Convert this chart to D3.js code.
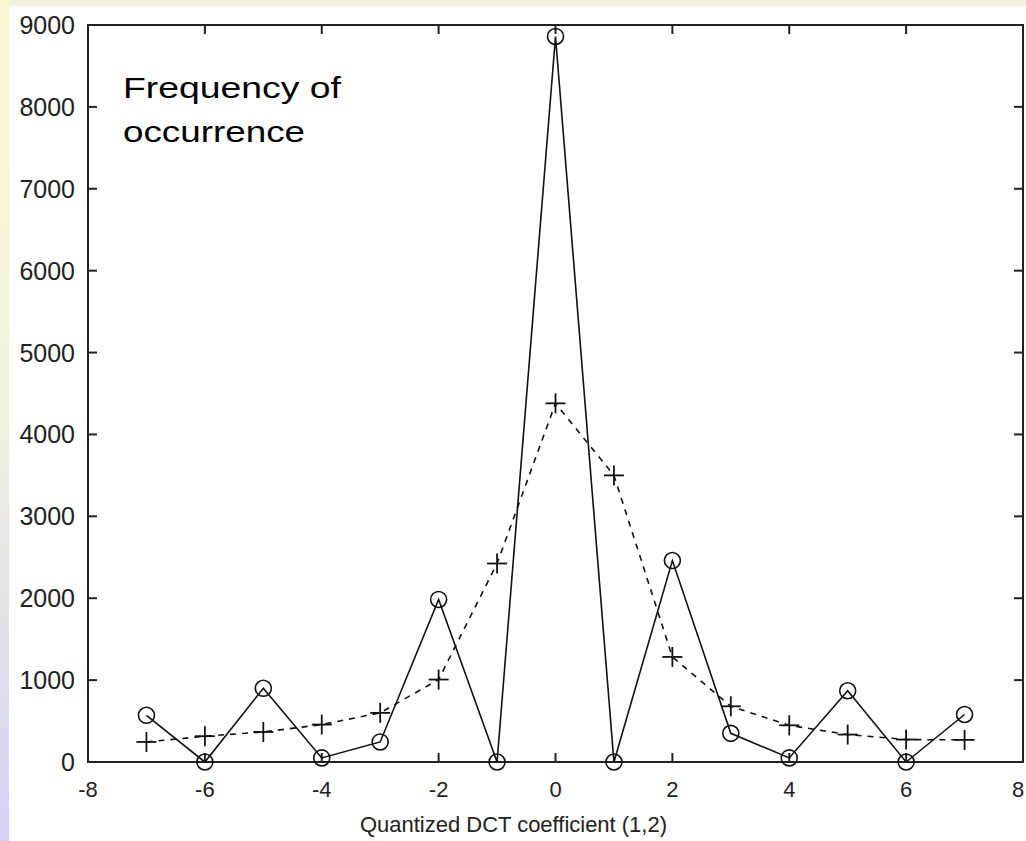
<!DOCTYPE html>
<html>
<head>
<meta charset="utf-8">
<script src="https://cdn.jsdelivr.net/npm/d3@7"></script>
<style>
  html, body { margin: 0; padding: 0; background: #fff; }
  svg { display: block; }
</style>
</head>
<body>
<svg id="chart" width="1026" height="841"></svg>
<script>
// ===== DATA =====
const coeffs = [-7, -6, -5, -4, -3, -2, -1, 0, 1, 2, 3, 4, 5, 6, 7];
// solid line, circle markers
const quantCounts = [570, 0, 900, 50, 245, 1985, 0, 8860, 0, 2460, 350, 50, 870, 0, 580];
// dashed line, plus markers
const dctCounts = [245, 315, 367, 457, 600, 1007, 2424, 4380, 3500, 1283, 680, 448, 335, 274, 270];
const xTicks = [-8, -6, -4, -2, 0, 2, 4, 6, 8];
const yTicks = [0, 1000, 2000, 3000, 4000, 5000, 6000, 7000, 8000, 9000];

const svg = d3.select("#chart");
const W = 1026, H = 841;

// ===== SLIDE BACKGROUND =====
const defs = svg.append("defs");
const grad = defs.append("linearGradient")
  .attr("id", "sideGrad")
  .attr("x1", 0).attr("y1", 0).attr("x2", 0).attr("y2", 1);
grad.append("stop").attr("offset", "0%").attr("stop-color", "#fcf9d3");
grad.append("stop").attr("offset", "50%").attr("stop-color", "#f2f0dc");
grad.append("stop").attr("offset", "100%").attr("stop-color", "#d2d2f6");

svg.append("rect").attr("width", W).attr("height", H).attr("fill", "#fff");
svg.append("rect").attr("x", 0).attr("y", 0).attr("width", W).attr("height", 6).attr("fill", "#f3f1dc");
svg.append("rect").attr("x", 0).attr("y", 0).attr("width", 9).attr("height", H).attr("fill", "url(#sideGrad)");

// ===== SCALES =====
const plotL = 88, plotR = 1023, plotT = 25, plotB = 762;
const x = d3.scaleLinear().domain([-8, 8]).range([plotL, plotR]);
const y = d3.scaleLinear().domain([0, 9000]).range([plotB, plotT]);

const g = svg.append("g");
const tickLen = 9;
const axisColor = "#222";

// box
g.append("rect")
  .attr("x", plotL).attr("y", plotT)
  .attr("width", plotR - plotL).attr("height", plotB - plotT)
  .attr("fill", "none").attr("stroke", axisColor).attr("stroke-width", 2);

// ticks inward on all sides
xTicks.forEach(t => {
  g.append("line").attr("x1", x(t)).attr("x2", x(t)).attr("y1", plotB).attr("y2", plotB - tickLen)
    .attr("stroke", axisColor).attr("stroke-width", 2);
  g.append("line").attr("x1", x(t)).attr("x2", x(t)).attr("y1", plotT).attr("y2", plotT + tickLen)
    .attr("stroke", axisColor).attr("stroke-width", 2);
});
yTicks.forEach(t => {
  g.append("line").attr("x1", plotL).attr("x2", plotL + tickLen).attr("y1", y(t)).attr("y2", y(t))
    .attr("stroke", axisColor).attr("stroke-width", 2);
  g.append("line").attr("x1", plotR).attr("x2", plotR - tickLen).attr("y1", y(t)).attr("y2", y(t))
    .attr("stroke", axisColor).attr("stroke-width", 2);
});

const tickFont = "'Liberation Sans', Arial, sans-serif";

g.selectAll(".ylab").data(yTicks).join("text")
  .attr("class", "ylab")
  .attr("x", 75).attr("y", d => y(d))
  .attr("dy", "0.36em")
  .attr("text-anchor", "end")
  .attr("font-family", tickFont).attr("font-size", 25)
  .attr("fill", "#222")
  .text(d => d);

// last label sits at the right edge; nudge it in so it is not clipped
g.selectAll(".xlab").data(xTicks).join("text")
  .attr("class", "xlab")
  .attr("x", d => Math.min(x(d), W - 8)).attr("y", 789)
  .attr("dy", "0.36em")
  .attr("text-anchor", "middle")
  .attr("font-family", tickFont).attr("font-size", 22)
  .attr("fill", "#222")
  .text(d => d);

g.append("text")
  .attr("x", 360).attr("y", 832)
  .attr("font-family", tickFont).attr("font-size", 22)
  .attr("textLength", 307).attr("lengthAdjust", "spacingAndGlyphs")
  .attr("fill", "#222")
  .text("Quantized DCT coefficient (1,2)");

// ===== SERIES =====
const line = d3.line().x((d, i) => x(coeffs[i])).y(d => y(d));

g.append("path").datum(dctCounts)
  .attr("d", line)
  .attr("fill", "none").attr("stroke", "#111").attr("stroke-width", 1.6)
  .attr("stroke-dasharray", "6,6");

g.append("path").datum(quantCounts)
  .attr("d", line)
  .attr("fill", "none").attr("stroke", "#111").attr("stroke-width", 1.6);

// plus markers
const plus = g.selectAll(".plus").data(dctCounts).join("g")
  .attr("class", "plus")
  .attr("transform", (d, i) => `translate(${x(coeffs[i])},${y(d)})`);
plus.append("line").attr("x1", -10).attr("x2", 10).attr("stroke", "#111").attr("stroke-width", 1.8);
plus.append("line").attr("y1", -10).attr("y2", 10).attr("stroke", "#111").attr("stroke-width", 1.8);

// circle markers
g.selectAll(".circ").data(quantCounts).join("circle")
  .attr("class", "circ")
  .attr("cx", (d, i) => x(coeffs[i])).attr("cy", d => y(d))
  .attr("r", 8)
  .attr("fill", "none").attr("stroke", "#111").attr("stroke-width", 1.6);

// ===== ANNOTATION =====
const ann = g.append("text")
  .attr("font-family", "Arial, 'Liberation Sans', sans-serif")
  .attr("font-size", 30)
  .attr("fill", "#000");
ann.append("tspan").attr("x", 123).attr("y", 98)
  .attr("textLength", 218).attr("lengthAdjust", "spacingAndGlyphs")
  .text("Frequency of");
ann.append("tspan").attr("x", 123).attr("y", 142)
  .attr("textLength", 182).attr("lengthAdjust", "spacingAndGlyphs")
  .text("occurrence");
</script>
</body>
</html>
